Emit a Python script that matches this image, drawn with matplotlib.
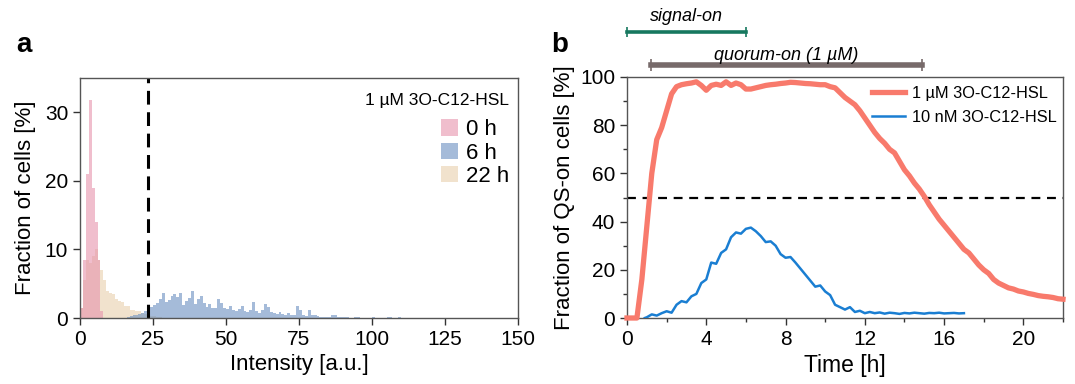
import numpy as np
import matplotlib
matplotlib.use("Agg")
import matplotlib.pyplot as plt
from matplotlib.patches import Patch
from matplotlib.ticker import MultipleLocator

plt.rcParams['font.family'] = ['Liberation Sans', 'DejaVu Sans']

# ---- panel a: intensity histograms (1-unit bins) ----
pink_start = 0
hist_0h = [1.5, 8.5, 21.0, 31.8, 19.0, 14.0, 8.5, 1.0]
tan_start = 0
hist_22h = [1.5, 5.5, 8.5, 8.0, 9.0, 10.0, 8.5, 7.0, 5.5, 4.0, 3.6, 3.5, 2.7, 2.5, 2.4,
            1.7, 1.7, 1.2, 1.2, 1.0, 1.0, 0.7, 0.6, 0.5, 0.3, 0.3, 0.2, 0.2]
blue_start = 16
hist_6h = [0.2, 0.3, 0.4, 0.5, 0.6, 0.8, 1.0, 1.4, 1.6, 1.9, 2.2, 2.8, 3.6, 2.3, 2.6,
           3.2, 3.5, 3.0, 3.7, 1.9, 2.5, 2.9, 4.0, 2.0, 2.7, 3.2, 2.2, 1.6, 2.0, 1.5,
           1.5, 2.7, 2.2, 1.5, 1.3, 1.7, 1.2, 1.0, 1.3, 1.7, 1.0, 0.9, 1.2, 2.4, 1.0,
           0.8, 1.1, 2.0, 1.6, 0.9, 0.8, 0.6, 0.9, 0.6, 0.5, 0.7, 0.4, 0.5, 1.8, 1.2,
           0.5, 0.3, 1.1, 0.4, 0.4, 0.3, 0.1, 0.1, 0.2, 0.1, 0.5, 0.4, 0.2, 0.1, 0.2,
           0.1, 0.0, 0.0, 0.2, 0.1, 0.0, 0.0, 0.0, 0.0, 0.1, 0.0, 0.0, 0.0, 0.0, 0.2,
           0.1, 0.0, 0.0, 0.2]
threshold = 23.3

# ---- panel b: QS-on fraction over time ----
t_1uM = [0, 0.25, 0.5, 0.75, 1.0, 1.25, 1.5, 1.75, 2.0, 2.25, 2.5, 2.75, 3.0, 3.25, 3.5,
         3.75, 4.0, 4.25, 4.5, 4.75, 5.0, 5.25, 5.5, 5.75, 6.0, 6.25, 6.5, 6.75, 7.0,
         7.25, 7.5, 7.75, 8.0, 8.25, 8.5, 8.75, 9.0, 9.25, 9.5, 9.75, 10.0, 10.25, 10.5,
         10.75, 11.0, 11.25, 11.5, 11.75, 12.0, 12.25, 12.5, 12.75, 13.0, 13.25, 13.5,
         13.75, 14.0, 14.25, 14.5, 14.75, 15.0, 15.25, 15.5, 15.75, 16.0, 16.25, 16.5,
         16.75, 17.0, 17.25, 17.5, 17.75, 18.0, 18.25, 18.5, 18.75, 19.0, 19.25, 19.5,
         19.75, 20.0, 20.25, 20.5, 20.75, 21.0, 21.25, 21.5, 21.75, 22.0]
qs_1uM = [0, 0, 0, 16, 38, 60, 74, 79, 86, 93, 96.0, 96.8, 97.2, 97.5, 98.0,
          96.5, 94.5, 96.5, 97.0, 96.5, 98.0, 96.5, 97.5, 96.8, 95.0, 95.0, 95.5, 96.0,
          96.5, 96.8, 97.0, 97.3, 97.5, 97.8, 97.7, 97.5, 97.3, 97.2, 97.0, 96.8, 96.8,
          96.0, 95.5, 93.5, 91.5, 90.0, 88.5, 86.0, 83.0, 80.0, 77.0, 74.5, 72.5, 70.0,
          68.5, 65.0, 61.5, 59.0, 56.0, 53.5, 50.5, 47.0, 44.0, 41.0, 38.5, 36.0, 33.5,
          31.0, 28.5, 27.0, 24.5, 22.0, 20.0, 18.5, 16.0, 14.5, 13.5, 12.5, 12.0, 11.2,
          10.8, 10.2, 9.8, 9.3, 9.0, 8.8, 8.5, 8.0, 7.8]
t_10nM = [0.9, 1.0, 1.25, 1.5, 1.75, 2.0, 2.25, 2.5, 2.75, 3.0, 3.25, 3.5, 3.75, 4.0,
          4.25, 4.5, 4.75, 5.0, 5.25, 5.5, 5.75, 6.0, 6.25, 6.5, 6.75, 7.0, 7.25, 7.5,
          7.75, 8.0, 8.25, 8.5, 8.75, 9.0, 9.25, 9.5, 9.75, 10.0, 10.25, 10.5, 10.75,
          11.0, 11.25, 11.5, 11.75, 12.0, 12.25, 12.5, 12.75, 13.0, 13.25, 13.5, 13.75,
          14.0, 14.25, 14.5, 14.75, 15.0, 15.25, 15.5, 15.75, 16.0, 16.25, 16.5, 16.75, 17.0]
qs_10nM = [0, 0.3, 1.5, 1.0, 2.0, 2.8, 2.2, 5.5, 7.0, 6.5, 9.0, 10.0, 14.5, 16.0,
           23.0, 22.5, 27.0, 28.5, 33.5, 35.5, 35.0, 37.0, 37.5, 36.0, 34.0, 31.5, 31.8,
           30.0, 26.5, 25.0, 25.3, 23.0, 20.5, 18.0, 15.5, 13.0, 13.5, 11.0, 9.5, 5.5,
           4.5, 3.5, 4.5, 2.5, 3.0, 2.0, 2.5, 2.0, 2.3, 1.8, 2.2, 2.0, 1.7, 2.1, 1.9,
           2.2, 2.0, 1.8, 2.1, 2.0, 2.2, 1.9, 2.0, 2.1, 1.9, 2.0]
signal_on = (0.0, 6.0)
quorum_on = (1.2, 14.9)

W, H = 1075, 384
fig = plt.figure(figsize=(W / 100, H / 100), dpi=100)
ax1 = fig.add_axes([80 / W, 66 / H, 438 / W, 240 / H])
ax2 = fig.add_axes([627 / W, 66 / H, 436 / W, 241 / H])

c_pink, c_blue, c_tan = '#e693ac', '#698fc1', '#e9cfad'
alpha = 0.6


def bars(ax, start, vals, color):
    x = np.arange(start, start + len(vals))
    ax.bar(x, vals, width=1.0, align='edge', color=color, alpha=alpha, linewidth=0)


bars(ax1, tan_start, hist_22h, c_tan)
bars(ax1, blue_start, hist_6h, c_blue)
bars(ax1, pink_start, hist_0h, c_pink)
ax1.axvline(threshold, color='black', lw=2.2, ls=(0, (4.5, 2.5)))
ax1.set_xlim(0, 150)
ax1.set_ylim(0, 35)
ax1.xaxis.set_major_locator(MultipleLocator(25))
ax1.set_yticks([0, 10, 20, 30])
ax1.set_xlabel('Intensity [a.u.]', fontsize=16)
ax1.set_ylabel('Fraction of cells [%]', fontsize=16, labelpad=6)
ax1.text(0.98, 0.905, '1 µM 3O-C12-HSL', transform=ax1.transAxes, ha='right',
         va='center', fontsize=12.5)
handles = [Patch(color=c, alpha=alpha, lw=0) for c in (c_pink, c_blue, c_tan)]
ax1.legend(handles, ['0 h', '6 h', '22 h'], loc='upper right', bbox_to_anchor=(1.0, 0.865),
           frameon=False, fontsize=16, handlelength=0.75, handleheight=0.75,
           handletextpad=0.35, labelspacing=0.1, borderaxespad=0.0)

ax2.plot(t_1uM, qs_1uM, color='#f87a6c', lw=3.8, label='1 µM 3O-C12-HSL', clip_on=False, zorder=3)
ax2.plot(t_10nM, qs_10nM, color='#1a7ed2', lw=1.8, label='10 nM 3O-C12-HSL', zorder=3)
ax2.axhline(50, color='black', lw=1.6, ls=(0, (4, 3)))
ax2.set_xlim(0, 22)
ax2.set_ylim(0, 100)
ax2.xaxis.set_major_locator(MultipleLocator(4))
ax2.xaxis.set_minor_locator(MultipleLocator(2))
ax2.yaxis.set_major_locator(MultipleLocator(20))
ax2.yaxis.set_minor_locator(MultipleLocator(10))
ax2.set_xlabel('Time [h]', fontsize=16.5)
ax2.set_ylabel('Fraction of QS-on cells [%]', fontsize=16, labelpad=4)
ax2.legend(loc='upper right', frameon=False, fontsize=11.8, handlelength=2.0,
           handletextpad=0.4, labelspacing=0.55, borderaxespad=0.0,
           bbox_to_anchor=(1.0, 0.99))

# time-window bars above panel b
tr = ax2.get_xaxis_transform()
ax2.plot(signal_on, [1.185, 1.185], color='#17785f', lw=2.6, marker='|', ms=7,
         mew=1.2, transform=tr, clip_on=False)
ax2.text(sum(signal_on) / 2, 1.25, 'signal-on', transform=tr, ha='center',
         va='center', fontsize=13, style='italic')
ax2.plot(quorum_on, [1.051, 1.051], color='#776a6a', lw=4.0, marker='|', ms=9,
         mew=1.2, transform=tr, clip_on=False)
ax2.text(sum(quorum_on) / 2, 1.09, 'quorum-on (1 µM)', transform=tr, ha='center',
         va='center', fontsize=13, style='italic')

for ax in (ax1, ax2):
    for s in ax.spines.values():
        s.set_color('#555555')
        s.set_linewidth(1.0)
    ax.tick_params(which='major', direction='out', length=5, width=1.0,
                   labelsize=15, color='#333333')
    ax.tick_params(which='minor', direction='out', length=3, width=1.0, color='#333333')

fig.text(16 / W, 1 - 45 / H, 'a', fontsize=20, fontweight='bold', va='center')
fig.text(551 / W, 1 - 45 / H, 'b', fontsize=20, fontweight='bold', va='center')

fig.savefig('out.png', dpi=100)
